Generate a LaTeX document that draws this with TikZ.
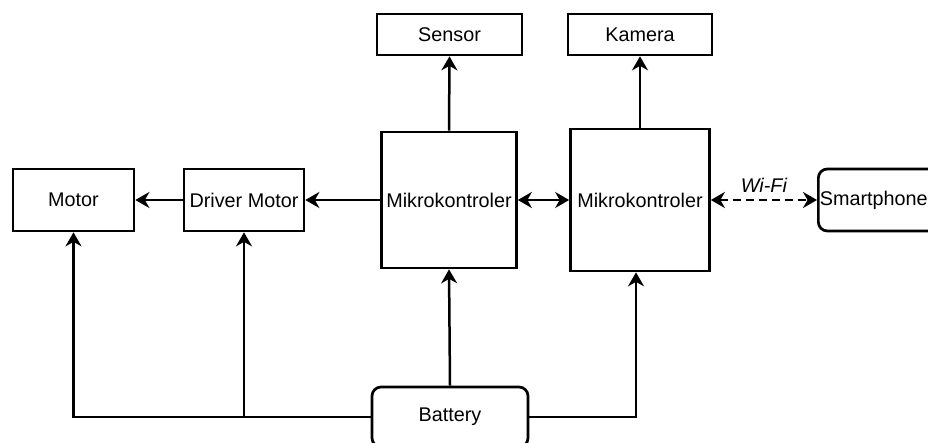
\documentclass[tikz,border=0pt]{standalone}
\usepackage{fontspec}
\setmainfont{Liberation Sans}
\usetikzlibrary{arrows.meta}
\begin{document}
\begin{tikzpicture}[x=1pt,y=-1pt,
  font=\fontsize{19.8}{23}\selectfont,
  blk/.style={draw=black, line width=2.7pt, fill=white, inner sep=0pt, align=center},
  rblk/.style={blk, rounded corners=9pt},
  conn/.style={line width=2.5pt, draw=black, -{Stealth[length=14pt,width=16pt,inset=4.5pt]}},
  biconn/.style={line width=2.5pt, draw=black, {Stealth[length=14pt,width=16pt,inset=4.5pt]}-{Stealth[length=14pt,width=16pt,inset=4.5pt]}},
  wifi/.style={biconn, dash pattern=on 8pt off 5pt},
  lbl/.style={font=\fontsize{19.8}{23}\selectfont\itshape, inner sep=0pt}
]
\useasboundingbox (0,0) rectangle (928,443);

\node[blk, minimum width=145pt, minimum height=41pt] (sensor) at (449.5,34.5) {Sensor};
\node[blk, minimum width=144pt, minimum height=41pt] (kamera) at (640,34.5) {Kamera};
\node[blk, minimum width=121pt, minimum height=62pt] (motor) at (73.5,200) {Motor};
\node[blk, minimum width=120pt, minimum height=62pt] (driver) at (244,200) {Driver Motor};
\node[blk, minimum width=135pt, minimum height=136pt] (mk1) at (449,200) {Mikrokontroler};
\node[blk, minimum width=139pt, minimum height=142pt] (mk2) at (640,200) {Mikrokontroler};
\node[rblk, anchor=west, minimum height=62pt, text width=124pt, align=left, inner xsep=1.5pt] (sp) at (817,200) {Smartphone};
\node[rblk, minimum width=156pt, minimum height=60pt] (bat) at (450,417) {Battery};

\draw[conn] (mk1.north) -- (sensor.south);
\draw[conn] (mk2.north) -- (kamera.south);
\draw[conn] (driver.west) -- (motor.east);
\draw[conn] (mk1.west) -- (driver.east);
\draw[biconn] (mk1.east) -- (mk2.west);
\draw[wifi] (mk2.east) -- node[lbl, above=6pt] (wf) {Wi-Fi} (sp.west);

\draw[conn] (bat.north) -- (mk1.south);
\draw[conn] (bat.west) -| (motor.south);
\coordinate (jd) at (driver.south |- bat.west);
\draw[conn] (jd) -- (driver.south);
\coordinate (mk2in) at ([xshift=-4pt]mk2.south);
\draw[conn] (bat.east) -| (mk2in);
\end{tikzpicture}
\end{document}
